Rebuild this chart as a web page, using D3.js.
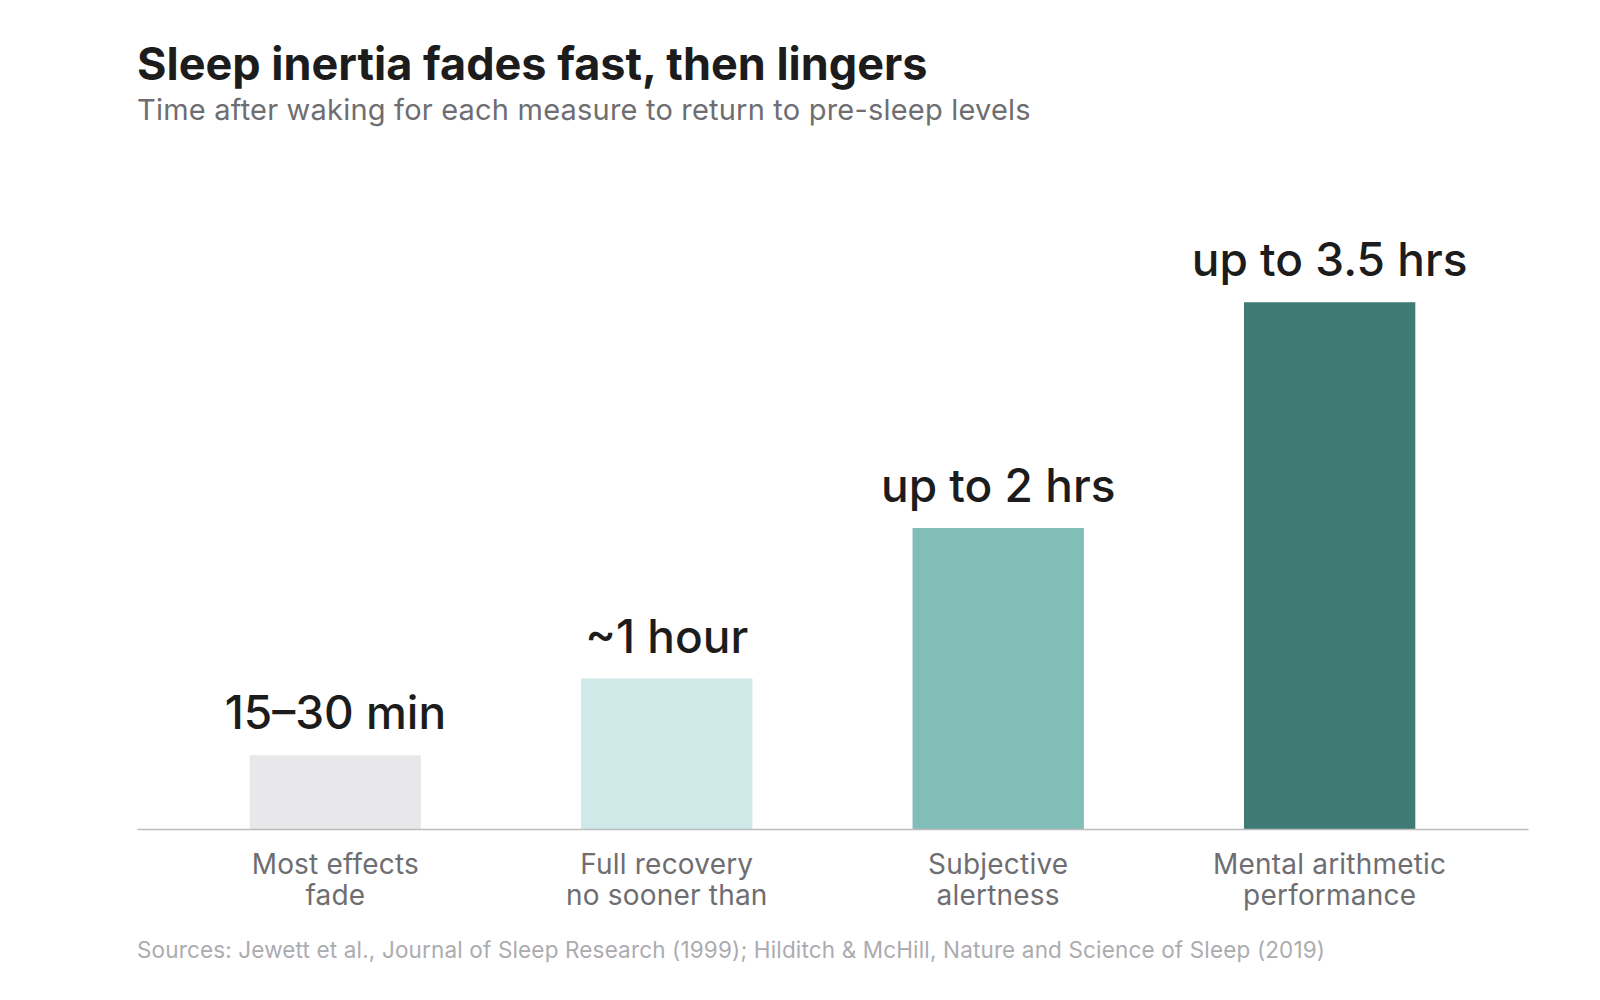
<!DOCTYPE html>
<html>
<head>
<meta charset="utf-8">
<script src="https://cdn.jsdelivr.net/npm/d3@7"></script>
<style>
  html, body { margin: 0; padding: 0; background: #fff; }
  svg { display: block; font-family: Inter, "Noto Sans", sans-serif; }
</style>
</head>
<body>
<div id="chart"></div>
<script>
// Sleep inertia bar chart - hours until each measure returns to pre-sleep levels

var categories = [["Most effects", "fade"], ["Full recovery", "no sooner than"], ["Subjective", "alertness"], ["Mental arithmetic", "performance"]];
var hours = [0.49, 1, 2, 3.5];
var valueLabels = ["15\u201330 min", "~1 hour", "up to 2 hrs", "up to 3.5 hrs"];
var barColors = ["#e8e8eb", "#cfe9e8", "#82beb8", "#407a75"];

var width = 1600, height = 1000;
var margin = {left: 137, right: 72, top: 227, bottom: 171};
var baseY = height - margin.bottom;

var svg = d3.select("#chart")
    .append("svg")
    .attr("width", width)
    .attr("height", height);

// Title + subtitle
svg.append("text")
    .text("Sleep inertia fades fast, then lingers")
    .attr("x", 137)
    .attr("y", 80)
    .attr("fill", "#1c1c1c")
    .attr("font-size", "45px")
    .attr("font-weight", 700)
    .attr("letter-spacing", "0px");

svg.append("text")
    .text("Time after waking for each measure to return to pre-sleep levels")
    .attr("x", 137)
    .attr("y", 120)
    .attr("fill", "#6e6e72")
    .attr("font-size", "29px")
    .attr("font-weight", 400)
    .attr("letter-spacing", "0.2px");

// Scales
var x = d3.scaleBand()
    .domain(d3.range(categories.length))
    .range([margin.left, width - margin.right])
    .paddingInner(0.483)
    .paddingOuter(0.34);

var y = d3.scaleLinear()
    .domain([0, 4])
    .range([baseY, margin.top]);

// Bars
svg.append("g")
    .selectAll("rect")
    .data(hours)
    .enter()
    .append("rect")
    .attr("x", function (d, i) { return x(i); })
    .attr("y", function (d) { return y(d); })
    .attr("width", x.bandwidth())
    .attr("height", function (d) { return baseY - y(d); })
    .attr("fill", function (d, i) { return barColors[i]; });

// Value labels above bars
svg.append("g")
    .selectAll("text")
    .data(hours)
    .enter()
    .append("text")
    .attr("x", function (d, i) { return x(i) + x.bandwidth() / 2; })
    .attr("y", function (d) { return y(d) - 26; })
    .attr("text-anchor", "middle")
    .attr("fill", "#1c1c1c")
    .attr("font-size", "46px")
    .attr("font-weight", 500)
    .text(function (d, i) { return valueLabels[i]; });

// X axis (just the baseline and two-line labels)
var xAxis = svg.append("g")
    .attr("class", "x axis")
    .attr("transform", "translate(0," + baseY + ")")
    .call(d3.axisBottom(x).tickSize(0).tickFormat(""));

xAxis.select(".domain")
    .attr("stroke", "#bdbdc0")
    .attr("stroke-width", 1.5);

xAxis.selectAll(".tick text").remove();

var labels = svg.append("g")
    .selectAll("text")
    .data(categories)
    .enter()
    .append("text")
    .attr("x", function (d, i) { return x(i) + x.bandwidth() / 2; })
    .attr("y", baseY + 45)
    .attr("text-anchor", "middle")
    .attr("fill", "#6e6e72")
    .attr("font-size", "28px")
    .attr("letter-spacing", "0.2px");

labels.selectAll("tspan")
    .data(function (d) { return d; })
    .enter()
    .append("tspan")
    .attr("x", function () { return d3.select(this.parentNode).attr("x"); })
    .attr("dy", function (d, j) { return j === 0 ? 0 : 31; })
    .text(function (d) { return d; });

// Sources
svg.append("text")
    .text("Sources: Jewett et al., Journal of Sleep Research (1999); Hilditch & McHill, Nature and Science of Sleep (2019)")
    .attr("x", 137)
    .attr("y", 958)
    .attr("fill", "#acacb0")
    .attr("font-size", "22.5px")
    .attr("letter-spacing", "0.15px");
</script>
</body>
</html>
